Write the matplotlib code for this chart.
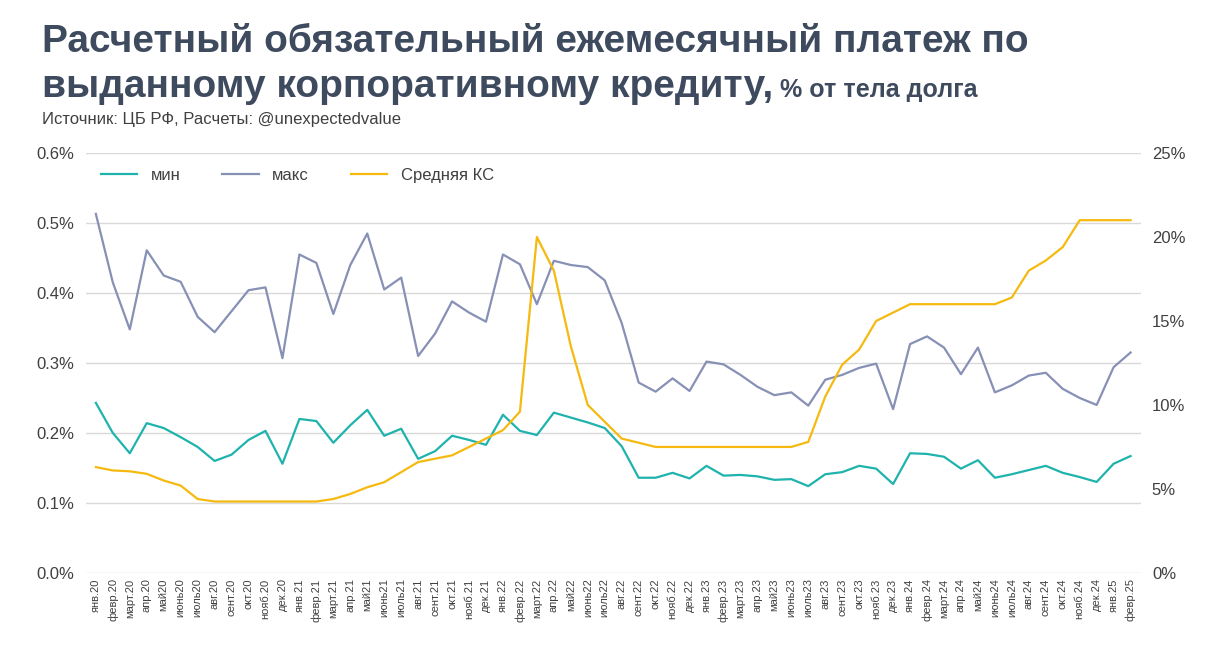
import numpy as np
import matplotlib.pyplot as plt
from matplotlib.ticker import FuncFormatter

plt.rcParams['font.family'] = ['Liberation Sans', 'DejaVu Sans']

months = []
for yy in ['20', '21', '22', '23', '24', '25']:
    for m in ['янв.', 'февр.', 'март.', 'апр.', 'май', 'июнь', 'июль', 'авг.', 'сент.', 'окт.', 'нояб.', 'дек.']:
        months.append(m + yy)
months = months[:62]

pay_min = [0.243, 0.200, 0.171, 0.214, 0.207, 0.194, 0.180, 0.160, 0.169, 0.190, 0.203, 0.156,
           0.220, 0.217, 0.186, 0.211, 0.233, 0.196, 0.206, 0.163, 0.174, 0.196, 0.190, 0.183,
           0.226, 0.203, 0.197, 0.229, 0.222, 0.215, 0.207, 0.181, 0.136, 0.136, 0.143, 0.135,
           0.153, 0.139, 0.140, 0.138, 0.133, 0.134, 0.124, 0.141, 0.144, 0.153, 0.149, 0.127,
           0.171, 0.170, 0.166, 0.149, 0.161, 0.136, 0.141, 0.147, 0.153, 0.143, 0.137, 0.130,
           0.156, 0.167]
pay_max = [0.513, 0.415, 0.348, 0.461, 0.425, 0.416, 0.366, 0.344, 0.374, 0.404, 0.408, 0.307,
           0.455, 0.443, 0.370, 0.440, 0.485, 0.405, 0.422, 0.310, 0.342, 0.388, 0.372, 0.359,
           0.455, 0.441, 0.384, 0.446, 0.440, 0.437, 0.418, 0.357, 0.272, 0.259, 0.278, 0.260,
           0.302, 0.298, 0.283, 0.266, 0.254, 0.258, 0.239, 0.276, 0.283, 0.293, 0.299, 0.234,
           0.327, 0.338, 0.322, 0.284, 0.322, 0.258, 0.268, 0.282, 0.286, 0.263, 0.250, 0.240,
           0.294, 0.315]
key_rate = [6.3, 6.1, 6.05, 5.9, 5.5, 5.2, 4.4, 4.25, 4.25, 4.25, 4.25, 4.25,
            4.25, 4.25, 4.4, 4.7, 5.1, 5.4, 6.0, 6.6, 6.8, 7.0, 7.5, 8.0,
            8.5, 9.6, 20.0, 18.0, 13.5, 10.0, 9.0, 8.0, 7.75, 7.5, 7.5, 7.5,
            7.5, 7.5, 7.5, 7.5, 7.5, 7.5, 7.8, 10.5, 12.4, 13.3, 15.0, 15.5,
            16.0, 16.0, 16.0, 16.0, 16.0, 16.0, 16.4, 18.0, 18.6, 19.4, 21.0, 21.0,
            21.0, 21.0]

c_min, c_max, c_ks = '#1fb3ad', '#8790b5', '#f5b90f'
txt = '#404040'

fig = plt.figure(figsize=(12.24, 6.54), dpi=100)
ax = fig.add_axes([0.070, 0.124, 0.862, 0.642])
ax2 = ax.twinx()
x = np.arange(len(months))

l1, = ax.plot(x, pay_min, color=c_min, lw=1.6, label='мин')
l2, = ax.plot(x, pay_max, color=c_max, lw=1.6, label='макс')
l3, = ax2.plot(x, key_rate, color=c_ks, lw=1.6, label='Средняя КС')

ax.set_ylim(0, 0.6)
ax.set_yticks(np.arange(0, 0.61, 0.1))
ax.yaxis.set_major_formatter(FuncFormatter(lambda v, p: f'{v:.1f}%'))
ax2.set_ylim(0, 25)
ax2.set_yticks(range(0, 26, 5))
ax2.yaxis.set_major_formatter(FuncFormatter(lambda v, p: f'{v:.0f}%'))
ax.set_xlim(-0.6, len(months) - 0.4)
ax.set_xticks(x)
ax.set_xticklabels(months, rotation=90, fontsize=8, color=txt)
ax.grid(axis='y', color='#d9d9d9', lw=1)
ax.set_axisbelow(True)
for a in (ax, ax2):
    for s in a.spines.values():
        s.set_visible(False)
    a.tick_params(length=0, labelsize=12, labelcolor=txt)
ax.tick_params(axis='x', labelsize=8, pad=4)
ax.tick_params(axis='y', pad=8)
ax2.tick_params(axis='y', pad=8)

ax.legend(handles=[l1, l2, l3], loc='upper left', bbox_to_anchor=(0.0, 1.0), ncol=3,
          frameon=False, fontsize=12, labelcolor=txt, handlelength=2.2, columnspacing=2.5)

title_c = '#3e4a5e'
fig.text(0.034, 0.92, 'Расчетный обязательный ежемесячный платеж по', fontsize=28,
         fontweight='bold', color=title_c, va='baseline')
t = fig.text(0.034, 0.852, 'выданному корпоративному кредиту,', fontsize=28,
             fontweight='bold', color=title_c, va='baseline')
fig.canvas.draw()
bb = t.get_window_extent().transformed(fig.transFigure.inverted())
fig.text(bb.x1 + 0.006, 0.852, '% от тела долга', fontsize=18, fontweight='bold',
         color=title_c, va='baseline')
fig.text(0.034, 0.81, 'Источник: ЦБ РФ, Расчеты: @unexpectedvalue', fontsize=12,
         color=txt, va='baseline')

fig.savefig('out.png', dpi=100)
